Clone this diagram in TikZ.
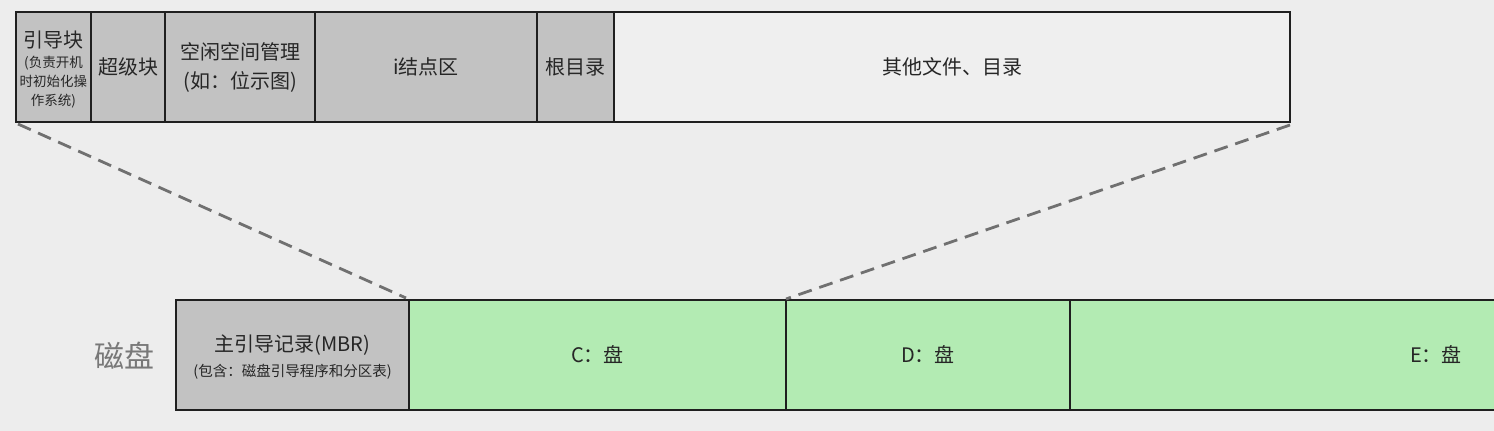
\documentclass[tikz,border=0pt]{standalone}
\usepackage{fontspec}
\setmainfont{Noto Sans CJK SC}
\begin{document}
\begin{tikzpicture}[x=1pt,y=-1pt,
  box/.style={draw=black!88,line width=1.5pt,inner sep=0pt,outer sep=0pt,anchor=north west,minimum height=110pt},
  graybox/.style={box,fill=boxgray},
  greenbox/.style={box,fill=diskgreen},
  lbl/.style={text=txt,font=\fontsize{20}{29}\selectfont,align=center,inner sep=0pt},
  small/.style={text=txt,font=\fontsize{13.5}{19}\selectfont,align=center,inner sep=0pt},
  zoomline/.style={draw=dashgray,line width=2.8pt,dash pattern=on 14pt off 8pt}]
\definecolor{bg}{HTML}{EDEDED}
\definecolor{boxgray}{HTML}{C2C2C2}
\definecolor{diskgreen}{HTML}{B3EBB3}
\definecolor{lightbox}{HTML}{EFEFEF}
\definecolor{dashgray}{HTML}{707070}
\definecolor{txt}{HTML}{262626}
\definecolor{disklbl}{HTML}{787878}
\useasboundingbox (0,0) rectangle (1494,431);
\fill[bg] (0,0) rectangle (1494,431);
\begin{scope}
\clip (0,0) rectangle (1494,431);
% top row
\node[graybox,minimum width=75pt] (boot) at (16,12) {};
\node[graybox,minimum width=74pt] (super) at (91,12) {};
\node[graybox,minimum width=150pt] (free) at (165,12) {};
\node[graybox,minimum width=222pt] (inode) at (315,12) {};
\node[graybox,minimum width=77pt] (root) at (537,12) {};
\node[box,fill=lightbox,minimum width=676pt] (other) at (614,12) {};
\node[lbl] (bootlbl) at (53.5,40) {引导块};
\node[small] (bootsub) at (53.5,82) {(负责开机\\时初始化操\\作系统)};
\node[lbl] at (super.center) {超级块};
\node[lbl] at (free.center) {空闲空间管理\\(如：位示图)};
\node[lbl] at (inode.center) {i结点区};
\node[lbl] at (root.center) {根目录};
\node[lbl] at (other.center) {其他文件、目录};
% bottom row
\node[graybox,minimum width=233pt] (mbr) at (176,300) {};
\node[greenbox,minimum width=377pt] (cdisk) at (409,300) {};
\node[greenbox,minimum width=284pt] (ddisk) at (786,300) {};
\node[greenbox,minimum width=732pt] (edisk) at (1070,300) {};
\node[lbl] (mbrlbl) at (292.5,345) {主引导记录(MBR)};
\node[lbl,font=\fontsize{14.5}{18}\selectfont] (mbrsub) at (292.5,372) {(包含：磁盘引导程序和分区表)};
\node[lbl] at (cdisk.center) {C：盘};
\node[lbl] at (ddisk.center) {D：盘};
\node[lbl] at (1436,355) {E：盘};
\node[text=disklbl,font=\fontsize{30}{30}\selectfont,inner sep=0pt] (disk) at (124,356) {磁盘};
% zoom lines
\draw[zoomline] ([shift={(2pt,-2pt)}]boot.south west) -- ([shift={(-3pt,2pt)}]cdisk.north west);
\draw[zoomline] ([shift={(0pt,-3pt)}]other.south east) -- ([shift={(0pt,1pt)}]ddisk.north west);
\end{scope}
\end{tikzpicture}
\end{document}
